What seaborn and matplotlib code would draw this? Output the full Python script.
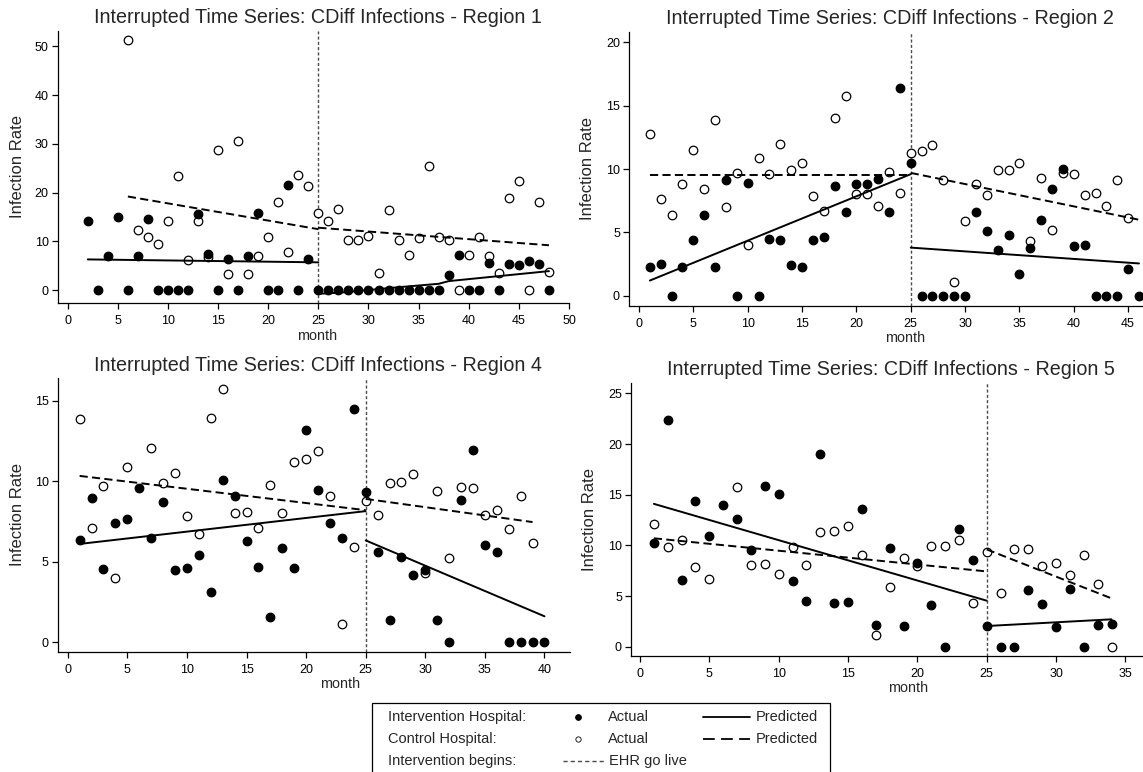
import matplotlib
matplotlib.use("Agg")
import matplotlib.pyplot as plt
from matplotlib.lines import Line2D
from matplotlib.patches import Rectangle
import pandas as pd
import seaborn as sns

# ---------------- Region 1 ----------------
r1_int_month = list(range(2, 49))
r1_int_rate = [14.1, 0, 7.0, 15.0, 0, 7.0, 14.6, 0, 0, 0, 0, 15.7, 7.5, 0, 6.4, 0, 6.9, 15.8,
               0, 0, 21.6, 0, 6.4, 0, 0, 0, 0, 0, 0, 0, 0, 0, 0, 0, 0, 0, 3.1, 7.3, 0, 0,
               5.5, 0, 5.4, 5.1, 5.9, 5.3, 0]
r1_ctl_month = list(range(6, 49))
r1_ctl_rate = [51.2, 12.4, 10.9, 9.4, 14.1, 23.4, 6.2, 14.1, 6.8, 28.7, 3.3, 30.6, 3.3, 7.0,
               10.9, 18.1, 7.9, 23.7, 21.3, 15.8, 14.1, 16.7, 10.3, 10.2, 11.1, 3.5, 16.5,
               10.3, 7.2, 10.7, 25.5, 10.9, 10.2, 0, 7.2, 10.9, 7.0, 3.5, 18.8, 22.3, 0,
               18.1, 3.8]
r1_int_pred_pre_month = [2, 25]
r1_int_pred_pre = [6.3, 5.7]
r1_int_pred_post_month = [25, 27, 33, 37, 38, 48]
r1_int_pred_post = [-0.75, -0.55, 0.6, 1.3, 1.85, 3.9]
r1_ctl_pred_pre_month = [6, 25]
r1_ctl_pred_pre = [19.2, 12.5]
r1_ctl_pred_post_month = [25, 48]
r1_ctl_pred_post = [12.8, 9.2]

# ---------------- Region 2 ----------------
r2_int_month = list(range(1, 47))
r2_int_rate = [2.24, 2.5, 0, 2.24, 4.4, 6.4, 2.3, 9.1, 0, 8.9, 0, 4.5, 4.4, 2.4, 2.3, 4.4,
               4.6, 8.7, 6.6, 8.8, 8.8, 9.2, 6.6, 16.4, 10.5, 0, 0, 0, 0, 0, 6.6, 5.1, 3.6,
               4.8, 1.7, 3.8, 6.0, 8.4, 10.0, 3.9, 4.0, 0, 0, 0, 2.1, 0]
r2_ctl_month = list(range(1, 46))
r2_ctl_rate = [12.8, 7.6, 6.4, 8.8, 11.5, 8.4, 13.9, 7.0, 9.7, 4.0, 10.9, 9.6, 12.0, 9.9,
               10.5, 7.9, 6.7, 14.0, 15.8, 8.0, 8.0, 7.1, 9.75, 8.1, 11.25, 11.4, 11.9, 9.1,
               1.05, 5.9, 8.8, 7.95, 9.9, 9.9, 10.5, 4.35, 9.3, 5.2, 9.7, 9.6, 7.95, 8.1,
               7.1, 9.1, 6.1]
r2_int_pred_pre_month = [1, 25]
r2_int_pred_pre = [1.2, 9.6]
r2_int_pred_post_month = [25, 46]
r2_int_pred_post = [3.8, 2.55]
r2_ctl_pred_pre_month = [1, 25]
r2_ctl_pred_pre = [9.55, 9.55]
r2_ctl_pred_post_month = [25, 46]
r2_ctl_pred_post = [9.7, 6.0]

# ---------------- Region 4 ----------------
r4_int_month = list(range(1, 41))
r4_int_rate = [6.36, 8.97, 4.55, 7.38, 7.62, 9.6, 6.5, 8.7, 4.5, 4.6, 5.4, 3.1, 10.1, 9.1,
               6.26, 4.67, 1.57, 5.87, 4.6, 13.2, 9.46, 7.38, 6.5, 14.5, 9.3, 5.6, 1.36, 5.3,
               4.15, 4.5, 1.4, 0, 8.86, 11.96, 6.03, 5.6, 0, 0, 0, 0]
r4_ctl_month = [1, 2, 3, 4, 5] + list(range(7, 40))
r4_ctl_rate = [13.9, 7.1, 9.7, 4.0, 10.9, 12.07, 9.9, 10.5, 7.85, 6.7, 13.95, 15.76, 8.0,
               8.1, 7.1, 9.75, 8.04, 11.2, 11.4, 11.9, 9.07, 1.1, 5.9, 8.8, 7.93, 9.88, 9.94,
               10.43, 4.3, 9.38, 5.25, 9.63, 9.59, 7.93, 8.18, 7.05, 9.07, 6.14]
r4_int_pred_pre_month = [1, 25]
r4_int_pred_pre = [6.1, 8.14]
r4_int_pred_post_month = [25, 40]
r4_int_pred_post = [6.32, 1.6]
r4_ctl_pred_pre_month = [1, 25]
r4_ctl_pred_pre = [10.33, 8.2]
r4_ctl_pred_post_month = [25, 39]
r4_ctl_pred_post = [8.9, 7.46]

# ---------------- Region 5 ----------------
r5_int_month = list(range(1, 35))
r5_int_rate = [10.2, 22.4, 6.55, 14.4, 10.9, 14.0, 12.57, 9.5, 15.9, 15.07, 6.45, 4.54,
               19.05, 4.28, 4.38, 13.55, 2.14, 9.7, 2.04, 8.26, 4.1, 0, 11.58, 8.6, 2.04, 0,
               0, 5.6, 4.2, 1.9, 5.7, 0, 2.17, 2.24]
r5_ctl_month = [1, 2, 3, 4, 5] + list(range(7, 35))
r5_ctl_rate = [12.1, 9.87, 10.5, 7.9, 6.7, 15.8, 8.06, 8.16, 7.17, 9.8, 8.06, 11.3, 11.4,
               11.94, 9.05, 1.15, 5.9, 8.8, 7.96, 9.97, 9.97, 10.5, 4.3, 9.3, 5.3, 9.67, 9.6,
               8.0, 8.26, 7.1, 9.08, 6.2, 0]
r5_int_pred_pre_month = [1, 25]
r5_int_pred_pre = [14.1, 4.54]
r5_int_pred_post_month = [25, 34]
r5_int_pred_post = [2.04, 2.7]
r5_ctl_pred_pre_month = [1, 25]
r5_ctl_pred_pre = [10.7, 7.43]
r5_ctl_pred_post_month = [25, 34]
r5_ctl_pred_post = [9.6, 4.77]

intervention_month = 25

# ---------------- style ----------------
sns.set_style("ticks")
plt.rcParams["font.family"] = ["Liberation Sans", "DejaVu Sans"]
plt.rcParams["axes.linewidth"] = 0.9
plt.rcParams["xtick.major.size"] = 4.5
plt.rcParams["ytick.major.size"] = 4.5
plt.rcParams["xtick.major.width"] = 0.9
plt.rcParams["ytick.major.width"] = 0.9
plt.rcParams["xtick.major.pad"] = 4.0
plt.rcParams["ytick.major.pad"] = 2.0
plt.rcParams["xtick.labelsize"] = 9
plt.rcParams["ytick.labelsize"] = 9
plt.rcParams["xtick.color"] = "black"
plt.rcParams["ytick.color"] = "black"

W, H = 1143, 772
fig = plt.figure(figsize=(W / 100, H / 100), dpi=100)


def fx(px):
    return px / W


def fy(py):
    return 1 - py / H


DASH = (0, (4.2, 2.2))
VLINE = (0, (2.2, 1.6))

panels = [
    dict(name="Region 1", box=(57.7, 30.7, 569, 303.3), xlim=(-1.0, 50.0), ylim=(-2.7, 53.2),
         xticks=range(0, 51, 5), yticks=range(0, 51, 10),
         title=(317.5, 22.7), ylab=(18, 167), xlab=(317, 336),
         int_m=r1_int_month, int_r=r1_int_rate, ctl_m=r1_ctl_month, ctl_r=r1_ctl_rate,
         lines=[(r1_int_pred_pre_month, r1_int_pred_pre, "-"),
                (r1_int_pred_post_month, r1_int_pred_post, "-"),
                (r1_ctl_pred_pre_month, r1_ctl_pred_pre, DASH),
                (r1_ctl_pred_post_month, r1_ctl_pred_post, DASH)]),
    dict(name="Region 2", box=(629, 32.3, 1143, 306), xlim=(-0.92, 46.37), ylim=(-0.81, 20.8),
         xticks=range(0, 46, 5), yticks=range(0, 21, 5),
         title=(889.7, 24.5), ylab=(588, 169), xlab=(905, 338),
         int_m=r2_int_month, int_r=r2_int_rate, ctl_m=r2_ctl_month, ctl_r=r2_ctl_rate,
         lines=[(r2_int_pred_pre_month, r2_int_pred_pre, "-"),
                (r2_int_pred_post_month, r2_int_pred_post, "-"),
                (r2_ctl_pred_pre_month, r2_ctl_pred_pre, DASH),
                (r2_ctl_pred_post_month, r2_ctl_pred_post, DASH)]),
    dict(name="Region 4", box=(57.7, 378.3, 570, 652), xlim=(-0.84, 42.14), ylim=(-0.62, 16.4),
         xticks=range(0, 41, 5), yticks=range(0, 16, 5),
         title=(318, 371), ylab=(17.5, 515), xlab=(340, 684),
         int_m=r4_int_month, int_r=r4_int_rate, ctl_m=r4_ctl_month, ctl_r=r4_ctl_rate,
         lines=[(r4_int_pred_pre_month, r4_int_pred_pre, "-"),
                (r4_int_pred_post_month, r4_int_pred_post, "-"),
                (r4_ctl_pred_pre_month, r4_ctl_pred_pre, DASH),
                (r4_ctl_pred_post_month, r4_ctl_pred_post, DASH)]),
    dict(name="Region 5", box=(631, 383.3, 1143, 656), xlim=(-0.65, 36.27), ylim=(-0.92, 26.0),
         xticks=range(0, 36, 5), yticks=range(0, 26, 5),
         title=(891, 375), ylab=(590, 519.7), xlab=(908, 688),
         int_m=r5_int_month, int_r=r5_int_rate, ctl_m=r5_ctl_month, ctl_r=r5_ctl_rate,
         lines=[(r5_int_pred_pre_month, r5_int_pred_pre, "-"),
                (r5_int_pred_post_month, r5_int_pred_post, "-"),
                (r5_ctl_pred_pre_month, r5_ctl_pred_pre, DASH),
                (r5_ctl_pred_post_month, r5_ctl_pred_post, DASH)]),
]

for p in panels:
    x0, y0, x1, y1 = p["box"]
    ax = fig.add_axes([fx(x0), fy(y1), (x1 - x0) / W, (y1 - y0) / H])

    ctl = pd.DataFrame({"month": p["ctl_m"], "rate": p["ctl_r"]})
    itv = pd.DataFrame({"month": p["int_m"], "rate": p["int_r"]})

    ax.axvline(intervention_month, color="#4a4a4a", lw=1.0, linestyle=VLINE, zorder=1)

    sns.scatterplot(data=ctl, x="month", y="rate", ax=ax, s=38, color="white",
                    edgecolor="black", linewidth=0.9, zorder=3, legend=False)
    sns.scatterplot(data=itv, x="month", y="rate", ax=ax, s=38, color="black",
                    edgecolor="black", linewidth=0.9, zorder=4, legend=False)

    for lm, lv, ls in p["lines"]:
        seg = pd.DataFrame({"month": lm, "rate": lv})
        sns.lineplot(data=seg, x="month", y="rate", ax=ax, color="black", lw=1.4,
                     linestyle=ls, zorder=5, legend=False)

    ax.set_xlim(*p["xlim"])
    ax.set_ylim(*p["ylim"])
    ax.set_xticks(list(p["xticks"]))
    ax.set_yticks(list(p["yticks"]))
    ax.set_xlabel("")
    ax.set_ylabel("")
    sns.despine(ax=ax)
    for sp in ("left", "bottom"):
        ax.spines[sp].set_color("black")

    fig.text(fx(p["title"][0]), fy(p["title"][1]),
             "Interrupted Time Series: CDiff Infections - " + p["name"],
             ha="center", va="baseline", fontsize=14.2)
    fig.text(fx(p["ylab"][0]), fy(p["ylab"][1]), "Infection Rate", rotation=90,
             ha="center", va="center", fontsize=12)
    fig.text(fx(p["xlab"][0]), fy(p["xlab"][1]), "month", ha="center", va="center",
             fontsize=10.4)

# ---------------- key box ----------------
fig.add_artist(Rectangle((fx(371.7), fy(800)), (830 - 371.7) / W, (800 - 702.7) / H,
                         transform=fig.transFigure, fill=False, edgecolor="black",
                         lw=0.9, clip_on=False))

rows = [716.7, 739.3, 760.7]
lab_size = 10.5
fig.text(fx(388.3), fy(rows[0]), "Intervention Hospital:", ha="left", va="center",
         fontsize=lab_size)
fig.text(fx(388.3), fy(rows[1]), "Control Hospital:", ha="left", va="center",
         fontsize=lab_size)
fig.text(fx(388.3), fy(rows[2]), "Intervention begins:", ha="left", va="center",
         fontsize=lab_size)

fig.add_artist(Line2D([fx(578.3)], [fy(rows[0])], marker="o", ms=4.2, color="black",
                      mec="black", mew=0.6, lw=0, transform=fig.transFigure))
fig.add_artist(Line2D([fx(578.3)], [fy(rows[1])], marker="o", ms=3.8, color="white",
                      mec="black", mew=0.6, lw=0, transform=fig.transFigure))
fig.text(fx(608.3), fy(rows[0]), "Actual", ha="left", va="center", fontsize=lab_size)
fig.text(fx(608.3), fy(rows[1]), "Actual", ha="left", va="center", fontsize=lab_size)

fig.add_artist(Line2D([fx(703.3), fx(750)], [fy(rows[0])] * 2, color="black", lw=1.3,
                      transform=fig.transFigure))
fig.add_artist(Line2D([fx(703.3), fx(750)], [fy(rows[1])] * 2, color="black", lw=1.3,
                      linestyle=(0, (6.5, 3.5)), transform=fig.transFigure))
fig.text(fx(756), fy(rows[0]), "Predicted", ha="left", va="center", fontsize=lab_size)
fig.text(fx(756), fy(rows[1]), "Predicted", ha="left", va="center", fontsize=lab_size)

fig.add_artist(Line2D([fx(563), fx(605)], [fy(rows[2])] * 2, color="#4a4a4a", lw=1.0,
                      linestyle=(0, (3.0, 2.2)), transform=fig.transFigure))
fig.text(fx(609.3), fy(rows[2]), "EHR go live", ha="left", va="center", fontsize=lab_size)

fig.savefig("out.png", dpi=100)
